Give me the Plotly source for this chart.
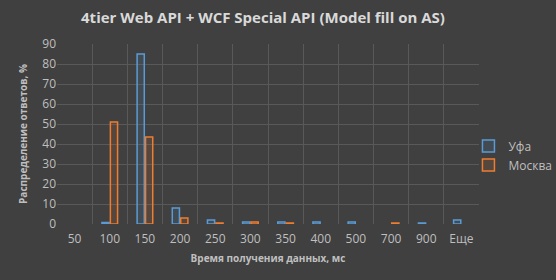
import plotly.graph_objects as go

categories = ["50", "100", "150", "200", "250", "300", "350", "400", "500", "700", "900", "Еще"]
ufa = [None, 0.8, 85, 8, 2, 1, 1, 1, 1, None, 0.5, 2]
moscow = [None, 51, 43.5, 3, 0.5, 1, 0.5, None, None, 0.5, None, None]
y_ticks = [0, 10, 20, 30, 40, 50, 60, 70, 80, 90]

bg = "#404040"
blue = "#5b9bd5"
orange = "#ed7d31"

fig = go.Figure()
fig.add_trace(go.Bar(x=categories, y=ufa, name="Уфа",
                     marker=dict(color="rgba(91,155,213,0.12)", line=dict(color=blue, width=1.5))))
fig.add_trace(go.Bar(x=categories, y=moscow, name="Москва",
                     marker=dict(color="rgba(237,125,49,0.12)", line=dict(color=orange, width=1.5))))

fig.update_layout(
    width=556, height=280,
    paper_bgcolor=bg, plot_bgcolor=bg,
    margin=dict(l=57, r=77, t=44, b=56, autoexpand=False),
    font=dict(family="Open Sans", color="#bfbfbf", size=12),
    title=dict(text="<b>4tier Web API + WCF Special API (Model fill on AS)</b>",
               x=0.473, xanchor="center", y=0.935, yanchor="middle",
               font=dict(size=15, color="#d9d9d9")),
    bargap=0.52, bargroupgap=0.15,
    legend=dict(x=0.975, y=0.38, xanchor="left", yanchor="middle",
                font=dict(size=12, color="#bfbfbf"), bgcolor="rgba(0,0,0,0)",
                itemwidth=30, tracegroupgap=4),
    xaxis=dict(type="category", tickson="boundaries", showgrid=True,
               gridcolor="#595959", gridwidth=1, ticks="", showline=False,
               ticklabelstandoff=6,
               tickfont=dict(size=12, color="#bfbfbf"),
               title=dict(text="<b>Время получения данных, мс</b>", standoff=8,
                          font=dict(size=10, color="#bfbfbf"))),
    yaxis=dict(range=[0, 90], tickvals=y_ticks, showgrid=True, gridcolor="#595959",
               zeroline=False, ticks="", showline=False,
               tickfont=dict(size=12, color="#bfbfbf"),
               title=dict(text="<b>Распределение ответов, %</b>", standoff=12,
                          font=dict(size=10, color="#bfbfbf"))),
)

fig.write_html("out.html")
